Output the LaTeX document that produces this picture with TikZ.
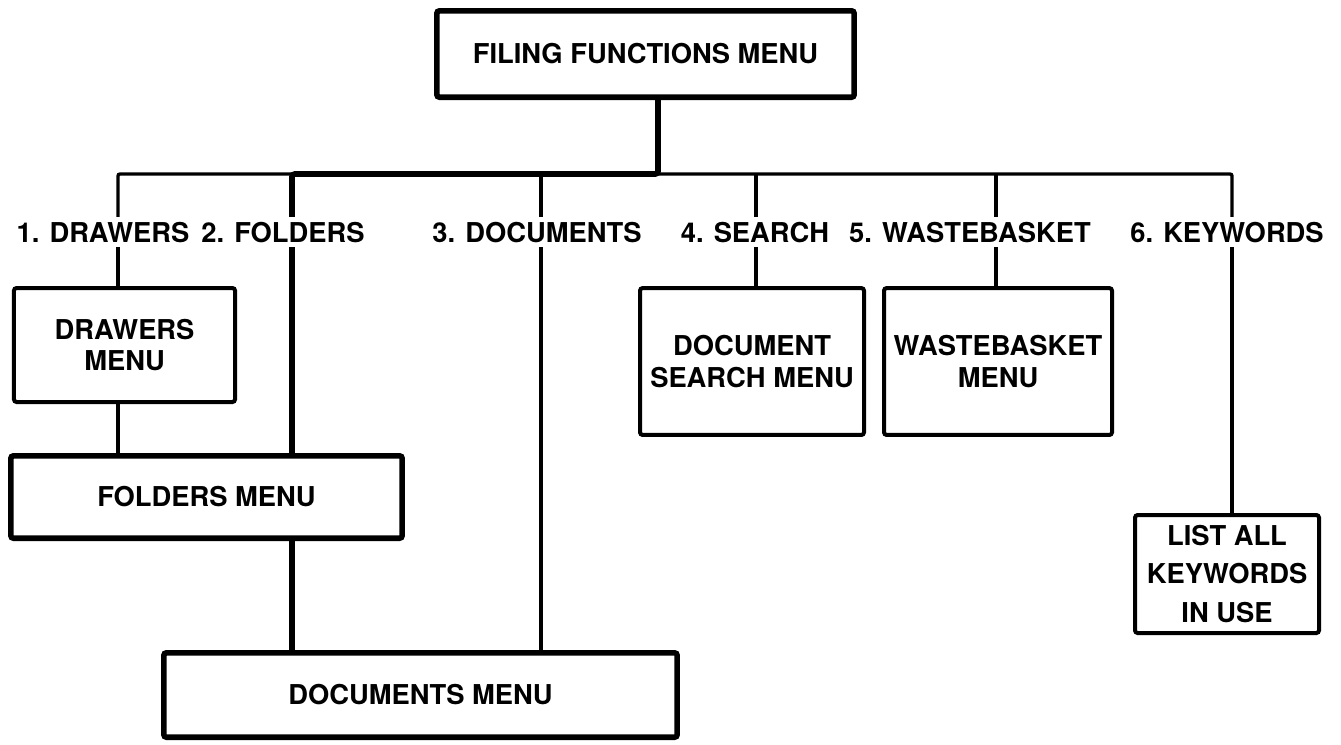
\documentclass[tikz,border=0pt]{standalone}
\usepackage{fontspec}
\setmainfont{TeX Gyre Heros}

\begin{document}
\begin{tikzpicture}[x=0.75pt,y=0.75pt,yscale=-1,xscale=1,
  every node/.style={font=\fontsize{20.5}{23.5}\selectfont\bfseries},
  menubox/.style={draw,line width=3pt,rounded corners=2pt,align=center,inner sep=0pt},
  mainbox/.style={menubox,line width=4.2pt},
  choice/.style={inner sep=3.4pt,anchor=base},
  thinline/.style={line width=2.5pt,rounded corners=1.5pt},
  thickline/.style={line width=4.2pt,rounded corners=2pt}]
\useasboundingbox (0,0) rectangle (1341,744);

% menus
\node [mainbox,minimum width=313pt,minimum height=64.8pt] (filing) at (645.5,54) {FILING FUNCTIONS MENU};
\node [menubox,minimum width=165.8pt,minimum height=85.5pt] (drawers) at (124.5,345) {DRAWERS\\MENU};
\node [mainbox,minimum width=293.5pt,minimum height=61.8pt] (folders) at (206.5,497) {FOLDERS MENU};
\node [mainbox,minimum width=385pt,minimum height=63.3pt] (docs) at (420.5,695) {DOCUMENTS MENU};
\node [menubox,minimum width=168pt,minimum height=110.2pt] (search) at (752,361.5) {DOCUMENT\\SEARCH MENU};
\node [menubox,minimum width=171pt,minimum height=110.2pt] (waste) at (998,361.5) {WASTEBASKET\\MENU};
\node [menubox,minimum width=138pt,minimum height=88.5pt,font=\fontsize{20.5}{29}\selectfont\bfseries] (keys) at (1227,574) {LIST ALL\\KEYWORDS\\IN USE};

% choices
\node [choice] (l1) at (103,242) {1. DRAWERS};
\node [choice] (l2) at (283,242) {2. FOLDERS};
\node [choice] (l3) at (537,242) {3. DOCUMENTS};
\node [choice] (l4) at (755,242) {4. SEARCH};
\node [choice] (l5) at (970,242) {5. WASTEBASKET};
\node [choice] (l6) at (1227,242) {6. KEYWORDS};

% bus
\coordinate (b0) at (658,174);
\coordinate (b1) at (118,174);
\coordinate (b2) at (292,174);
\coordinate (b3) at (541,174);
\coordinate (b4) at (756,174);
\coordinate (b5) at (996,174);
\coordinate (b6) at (1232,174);

\draw [thinline] (b1 |- l1.north) -- (b1) -- (b6) -- (b6 |- l6.north);
\draw [thickline] (filing.south -| b0) -- (b0) -- (b2) -- (b2 |- l2.north);
\foreach \i in {3,4,5}
  \draw [thinline] (b\i) -- (b\i |- l\i.north);

% down to the menus
\draw [thinline] (b1 |- l1.south) -- (b1 |- drawers.north);
\draw [thinline] (b1 |- drawers.south) -- (b1 |- folders.north);
\draw [thickline] (b2 |- l2.south) -- (b2 |- folders.north);
\draw [thickline] (b2 |- folders.south) -- (b2 |- docs.north);
\draw [thinline] (b3 |- l3.south) -- (b3 |- docs.north);
\draw [thinline] (b4 |- l4.south) -- (b4 |- search.north);
\draw [thinline] (b5 |- l5.south) -- (b5 |- waste.north);
\draw [thinline] (b6 |- l6.south) -- (b6 |- keys.north);
\end{tikzpicture}
\end{document}
